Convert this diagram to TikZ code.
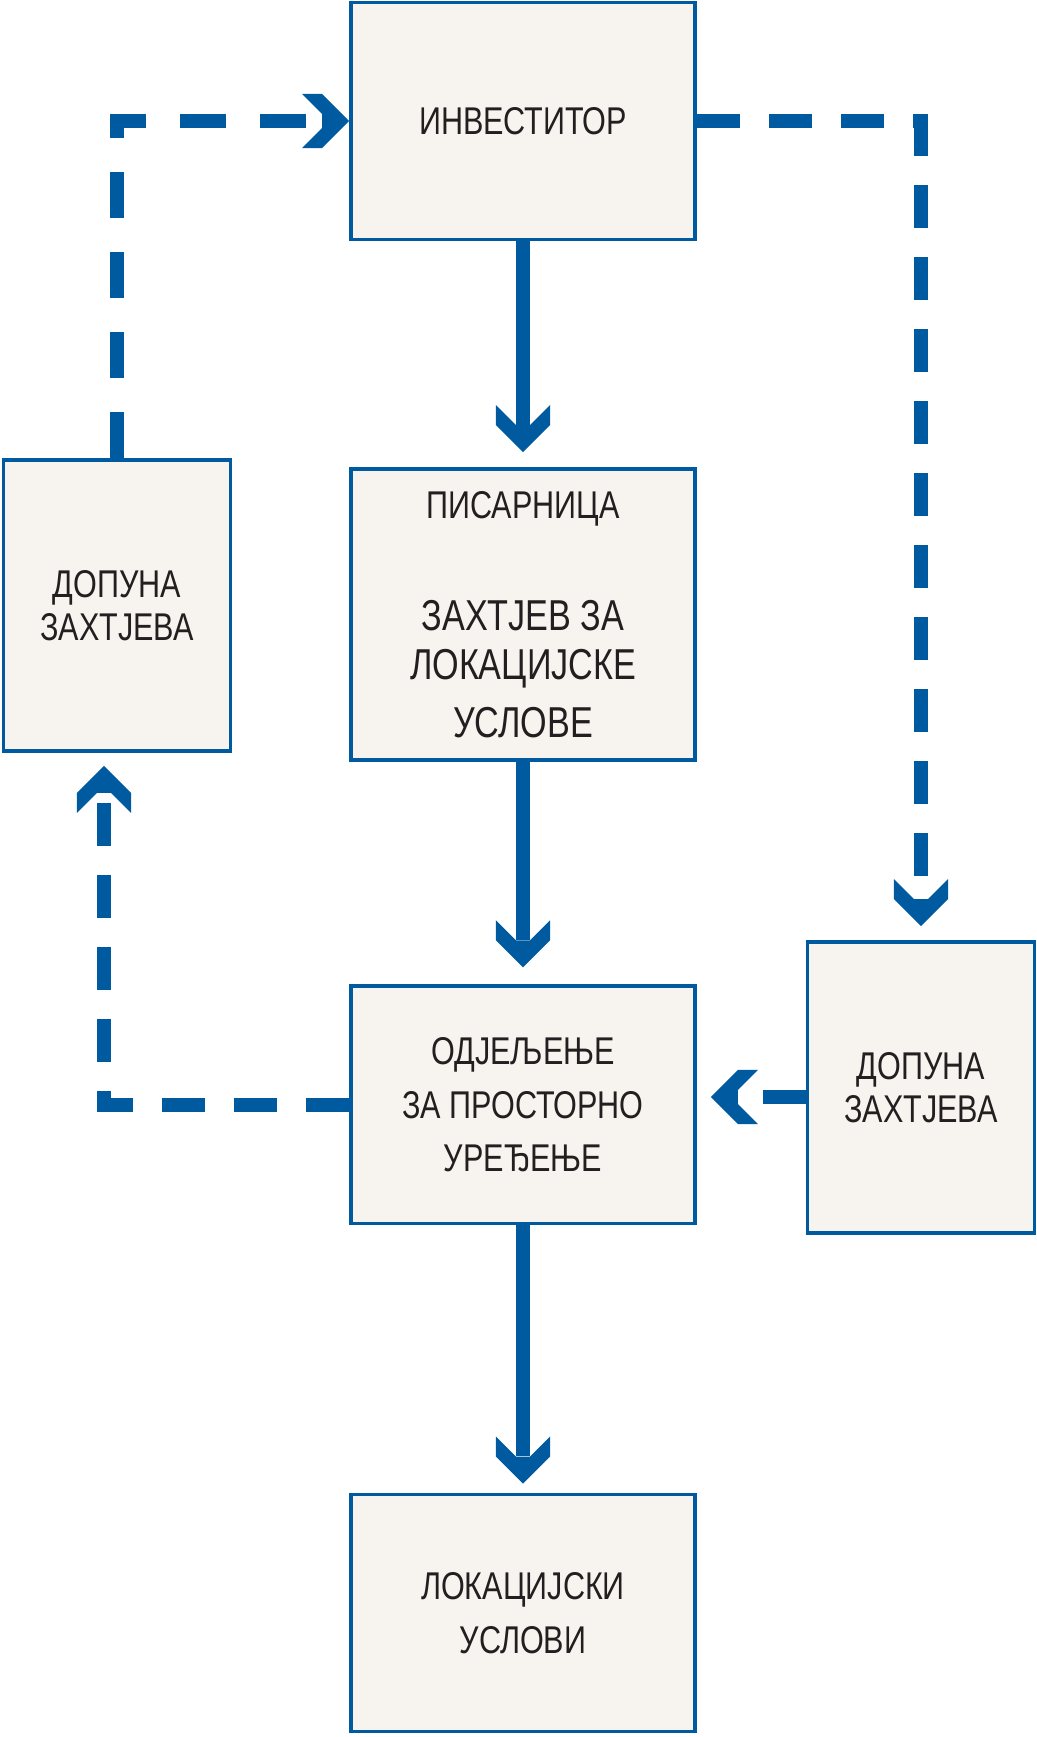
\documentclass[tikz,border=0pt]{standalone}
\usepackage{fontspec}
\setmainfont{Liberation Sans}[FakeStretch=0.79]
\usetikzlibrary{arrows.meta,positioning}
\definecolor{planblue}{RGB}{0,90,160}
\definecolor{planfill}{RGB}{247,243,239}
\definecolor{plantext}{RGB}{35,31,32}
% thick notched arrow head, sized from the line width
\pgfdeclarearrow{
  name=Chevron,
  parameters={\the\pgflinewidth},
  setup code={
    \pgfarrowssettipend{0pt}
    \pgfarrowssetlineend{-1.97\pgflinewidth}
    \pgfarrowssetbackend{-3.36\pgflinewidth}
    \pgfarrowshullpoint{0pt}{0pt}
    \pgfarrowsupperhullpoint{-3.36\pgflinewidth}{1.93\pgflinewidth}
    \pgfarrowssavethe\pgflinewidth
  },
  drawing code={
    \pgfpathmoveto{\pgfpoint{0pt}{0pt}}
    \pgfpathlineto{\pgfpoint{-1.93\pgflinewidth}{1.93\pgflinewidth}}
    \pgfpathlineto{\pgfpoint{-3.36\pgflinewidth}{1.93\pgflinewidth}}
    \pgfpathlineto{\pgfpoint{-1.93\pgflinewidth}{0.5\pgflinewidth}}
    \pgfpathlineto{\pgfpoint{-1.93\pgflinewidth}{-0.5\pgflinewidth}}
    \pgfpathlineto{\pgfpoint{-3.36\pgflinewidth}{-1.93\pgflinewidth}}
    \pgfpathlineto{\pgfpoint{-1.93\pgflinewidth}{-1.93\pgflinewidth}}
    \pgfpathclose
    \pgfusepathqfill
  }
}
\newcommand{\bigline}{\fontsize{12.3}{13.9}\selectfont}
\tikzset{
  office/.style={draw=planblue, line width=1pt, fill=planfill, text=plantext,
    align=center, inner sep=0pt, minimum width=3.44cm, minimum height=2.37cm,
    font=\fontsize{11}{15.3}\selectfont},
  extra/.style={office, minimum width=2.27cm, minimum height=2.91cm,
    font=\fontsize{11}{12.1}\selectfont},
  flow/.style={draw=planblue, line width=0.14cm, -{Chevron}},
  back/.style={flow, dash pattern=on 0.43cm off 0.29cm},
}
\begin{document}
\begin{tikzpicture}[x=0.01cm, y=-0.01cm]
  \useasboundingbox (0,0) rectangle (1037,1737);
  \node[office] (inv) at (523,121) {ИНВЕСТИТОР};
  \node[office, minimum height=2.91cm, font=\fontsize{11}{13.9}\selectfont] (pis) at (523,614.5)
    {ПИСАРНИЦА\\[18pt]\bigline ЗАХТЈЕВ ЗА\\\bigline ЛОКАЦИЈСКЕ\\[2.6pt]\bigline УСЛОВЕ};
  \node[office] (odj) at (523,1104.7) {ОДЈЕЉЕЊЕ\\ЗА ПРОСТОРНО\\УРЕЂЕЊЕ};
  \node[office] (lok) at (523,1613) {ЛОКАЦИЈСКИ\\УСЛОВИ};
  \node[extra] (dopL) at (117,605.5) {ДОПУНА\\ЗАХТЈЕВА}; % left
  \node[extra] (dopR) at (921,1087.5) {ДОПУНА\\ЗАХТЈЕВА}; % right
  % main line
  \draw[flow, shorten >=0.15cm] (inv) -- (pis);
  \draw[flow, shorten >=0.17cm] (pis) -- (odj);
  \draw[flow, shorten >=0.09cm] (odj) -- (lok);
  % returns
  \draw[back, shorten >=0.14cm] (inv.east) -| (dopR.north);
  \draw[back, shorten >=0.14cm] ([yshift=-0.095cm]dopR.west) -- ([yshift=-0.095cm]dopR.west -| odj.east);
  \draw[back, shorten >=0.13cm] (odj.west) -| ([xshift=-0.13cm]dopL.south);
  \draw[back, dash pattern=on 0.46cm off 0.34cm] (dopL.north) |- (inv.west);
\end{tikzpicture}
\end{document}
